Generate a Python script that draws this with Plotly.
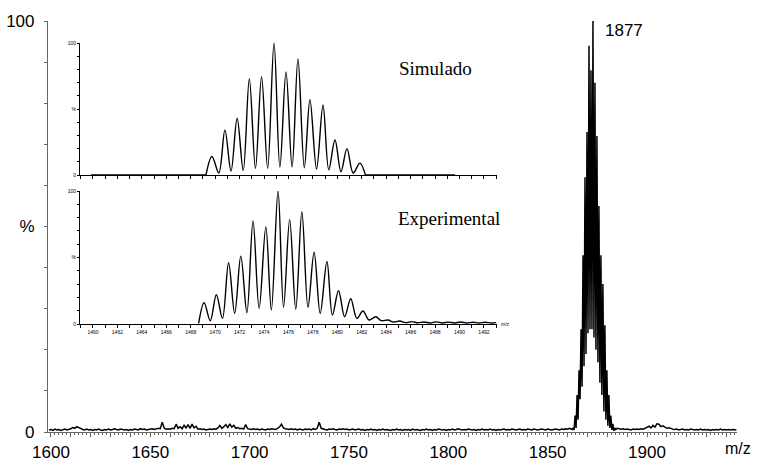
import plotly.graph_objects as go

# ---------------- main spectrum data ----------------
# baseline: one reading per m/z unit, 1599..1861 and 1885..1945
base_mz = list(range(1599, 1862)) + list(range(1885, 1946))
base_int = [
    0.5, 0.6, 0.4, 0.7, 0.5, 0.6, 0.4, 0.6, 0.7, 0.5,
    0.6, 0.8, 1.1, 0.9, 1.3, 1.0, 0.7, 0.6, 0.5, 0.7,
    0.5, 0.6, 0.4, 0.6, 0.5, 0.7, 0.5, 0.4, 0.6, 0.5,
    0.7, 0.5, 0.6, 0.8, 0.6, 0.5, 0.7, 0.6, 0.5, 0.6,
    0.4, 0.6, 0.5, 0.7, 0.6, 0.5, 0.8, 0.6, 0.7, 0.5,
    0.6, 0.7, 0.8, 0.6, 0.7, 0.9, 0.8, 2.4, 0.9, 0.7,
    0.8, 0.7, 0.9, 0.8, 1.9, 0.9, 1.3, 0.8, 1.6, 1.0,
    1.8, 0.9, 1.9, 1.0, 1.4, 0.7, 0.8, 0.6, 0.7, 0.5,
    0.6, 0.7, 0.6, 0.8, 0.7, 1.0, 1.6, 0.9, 1.3, 1.8,
    1.1, 2.0, 1.2, 1.6, 0.9, 1.1, 0.8, 0.9, 0.7, 1.8,
    0.8, 0.7, 0.6, 0.8, 0.6, 0.7, 0.5, 0.7, 0.6, 0.5,
    0.7, 0.6, 0.8, 0.7, 0.6, 0.9, 1.2, 1.9, 1.0, 0.8,
    0.7, 0.6, 0.8, 0.6, 0.7, 0.5, 0.7, 0.6, 0.5, 0.7,
    0.6, 0.7, 0.5, 0.8, 0.6, 0.9, 2.4, 0.9, 0.7, 0.6,
    0.5, 0.7, 0.6, 0.8, 0.6, 0.5, 0.7, 0.6, 0.8, 0.6,
    0.7, 0.5, 0.6, 0.7, 0.5, 0.6, 0.7, 0.5, 0.6, 0.4,
    0.6, 0.5, 0.7, 0.5, 0.6, 0.4, 0.6, 0.5, 0.7, 0.5,
    0.6, 0.5, 0.4, 0.6, 0.5, 0.7, 0.5, 0.6, 0.4, 0.6,
    0.5, 0.6, 0.4, 0.7, 0.5, 0.6, 0.5, 0.4, 0.6, 0.5,
    0.7, 0.5, 0.6, 0.4, 0.6, 0.5, 0.7, 0.6, 0.5, 0.6,
    0.4, 0.6, 0.5, 0.7, 0.5, 0.6, 0.8, 0.6, 0.5, 0.6,
    0.5, 0.7, 0.6, 0.5, 0.6, 0.4, 0.6, 0.5, 0.7, 0.5,
    0.6, 0.5, 0.7, 0.5, 0.6, 0.4, 0.6, 0.5, 0.6, 0.7,
    0.5, 0.6, 0.5, 0.7, 0.6, 0.5, 0.6, 0.7, 0.5, 0.6,
    0.5, 0.7, 0.6, 0.5, 0.7, 0.6, 0.5, 0.6, 0.7, 0.6,
    0.5, 0.7, 0.6, 0.5, 0.6, 0.7, 0.6, 0.5, 0.7, 0.6,
    0.8, 0.7, 0.9,
    0.9, 0.8, 0.7, 0.8, 0.6, 0.7, 0.6, 0.5, 0.7, 0.6,
    0.7, 0.6, 0.8, 0.7, 0.9, 1.1, 1.4, 1.0, 1.6, 1.2,
    2.0, 1.9, 1.3, 1.5, 1.2, 0.9, 1.0, 0.8, 0.7, 0.6,
    0.7, 0.5, 0.6, 0.7, 0.5, 0.6, 0.5, 0.7, 0.6, 0.5,
    0.6, 0.5, 0.7, 0.5, 0.6, 0.5, 0.6, 0.4, 0.6, 0.5,
    0.6, 0.5, 0.7, 0.5, 0.6, 0.5, 0.6, 0.5, 0.6, 0.5, 0.5]

cluster_peak_mz = [1862.8, 1863.8, 1864.8, 1865.8, 1866.8, 1867.8, 1868.8, 1869.8, 1870.8, 1871.8,
                   1872.8, 1873.8, 1874.8, 1875.8, 1876.8, 1877.8, 1878.8, 1879.8, 1880.8, 1881.8,
                   1882.8, 1883.8]
cluster_peak_int = [1, 4, 9, 15, 25, 43, 62, 73, 94, 88, 100, 85, 72, 55, 43, 36, 26, 15, 9, 4, 2, 1]
cluster_valley_mz = [1862.3, 1863.3, 1864.3, 1865.3, 1866.3, 1867.3, 1868.3, 1869.3, 1870.3, 1871.3,
                     1872.3, 1873.3, 1874.3, 1875.3, 1876.3, 1877.3, 1878.3, 1879.3, 1880.3, 1881.3,
                     1882.3, 1883.3, 1884.3]
cluster_valley_int = [0.6, 0.5, 1, 3, 8, 11, 16, 19, 24, 25, 25, 23, 20, 17, 12, 9, 5, 3, 1.5, 1, 0.5,
                      0.3, 0.6]

# ---------------- inset data ----------------
sim_flat_mz = [1459.84, 1469.25]
sim_tail_mz = [1482.3, 1489.63]
sim_mz = [1469.25, 1469.74, 1470.3, 1470.8, 1471.3, 1471.8, 1472.3, 1472.8, 1473.3, 1473.8, 1474.3,
          1474.82, 1475.3, 1475.8, 1476.3, 1476.78, 1477.3, 1477.76, 1478.3, 1478.83, 1479.3, 1479.81,
          1480.3, 1480.79, 1481.3, 1481.85, 1482.3]
sim_int = [0, 14, 1.5, 34, 3, 43, 3.5, 73, 5, 74.5, 5,
           100, 6, 78, 6, 88, 5.5, 57, 4.5, 53, 4, 26.5,
           2.5, 20, 1.5, 9, 0]

exp_mz = [1468.65, 1469.1, 1469.6, 1470.1, 1470.6, 1471.1, 1471.6, 1472.1, 1472.6, 1473.1, 1473.6,
          1474.15, 1474.6, 1475.15, 1475.6, 1476.1, 1476.6, 1477.1, 1477.6, 1478.1, 1478.6, 1479.15,
          1479.6, 1480.1, 1480.6, 1481.1, 1481.6, 1482.1, 1482.6, 1483.15, 1483.6, 1484.15, 1484.6,
          1485.1, 1485.6, 1486.1, 1486.6, 1487.1, 1487.6, 1488.1, 1488.6, 1489.1, 1489.6, 1490.1,
          1490.6, 1491.1, 1491.6, 1492.1, 1492.6, 1493.0]
exp_int = [0.5, 16, 2.5, 22, 4.25, 46, 8, 51, 8.5, 77.5, 11.75,
           73, 10.5, 100, 12.5, 78.5, 11, 84.5, 12.5, 54, 8, 47,
           6.75, 25, 5.5, 19, 4.25, 9.75, 3, 5.5, 2.5, 3, 1.5,
           2.2, 1.0, 1.8, 0.9, 1.5, 0.8, 1.6, 0.8, 1.4, 0.8, 1.5,
           0.8, 1.3, 0.8, 1.3, 0.8, 1.0]

main_x_ticks = list(range(1600, 1941, 10))
main_x_text = [str(v) if v % 50 == 0 else "" for v in main_x_ticks]
pct_ticks = list(range(0, 101, 10))
pct_text = ["0", "", "", "", "", "%", "", "", "", "", "100"]
inset_x_ticks = list(range(1459, 1494))
inset_x_text = [str(v) if v % 2 == 0 else "" for v in inset_x_ticks]

# combine main spectrum (sorted by m/z)
pts = list(zip(base_mz, base_int)) + list(zip(cluster_peak_mz, cluster_peak_int)) + \
      list(zip(cluster_valley_mz, cluster_valley_int))
pts.sort()
main_mz = [p[0] for p in pts]
main_int = [p[1] for p in pts]

fig = go.Figure()
fig.add_trace(go.Scatter(x=main_mz, y=main_int, mode="lines",
                         line=dict(color="black", width=1.5), xaxis="x", yaxis="y"))
# simulated
fig.add_trace(go.Scatter(x=sim_flat_mz, y=[0, 0], mode="lines",
                         line=dict(color="black", width=1.4), xaxis="x2", yaxis="y2"))
fig.add_trace(go.Scatter(x=sim_tail_mz, y=[0, 0], mode="lines",
                         line=dict(color="black", width=1.4), xaxis="x2", yaxis="y2"))
fig.add_trace(go.Scatter(x=sim_mz, y=sim_int, mode="lines",
                         line=dict(color="black", width=1.4, shape="spline", smoothing=1),
                         xaxis="x2", yaxis="y2"))
# experimental
fig.add_trace(go.Scatter(x=exp_mz, y=exp_int, mode="lines",
                         line=dict(color="black", width=1.4, shape="spline", smoothing=1),
                         xaxis="x3", yaxis="y3"))

W, H = 763, 464
main_font = dict(family="Liberation Sans, Arial, sans-serif", size=17, color="black")
tiny_font = dict(family="Liberation Sans, Arial, sans-serif", size=5, color="black")
axis_gray = "#666666"

inset_xdom = [80 / W, 497 / W]

fig.update_layout(
    width=W, height=H, margin=dict(l=0, r=0, t=0, b=0, autoexpand=False),
    paper_bgcolor="white", plot_bgcolor="white", showlegend=False,
    xaxis=dict(domain=[48 / W, 737 / W], range=[1598.5, 1945.3], anchor="y", automargin=False,
               showline=True, linecolor=axis_gray, linewidth=1.2, showgrid=False, zeroline=False,
               tickmode="array", tickvals=main_x_ticks, ticktext=main_x_text,
               ticks="outside", ticklen=4, tickcolor=axis_gray, tickwidth=1,
               minor=dict(dtick=2, tick0=1600, ticks="outside", ticklen=2, tickcolor=axis_gray),
               tickfont=main_font),
    yaxis=dict(domain=[32 / H, 443 / H], range=[0, 100], anchor="x", automargin=False,
               showline=True, linecolor=axis_gray, linewidth=1.2, showgrid=False, zeroline=False,
               tickmode="array", tickvals=pct_ticks, ticktext=pct_text,
               ticks="outside", ticklen=3, tickcolor=axis_gray, tickfont=main_font,
               ticklabelstandoff=6),
    xaxis2=dict(domain=inset_xdom, range=[1458.94, 1493.07], anchor="y2", automargin=False,
                showline=True, linecolor="black", linewidth=1.3, showgrid=False, zeroline=False,
                tickmode="array", tickvals=inset_x_ticks, showticklabels=False,
                ticks="outside", ticklen=2.5, tickcolor="black", tickwidth=0.8),
    yaxis2=dict(domain=[(H - 175) / H, (H - 43) / H], range=[0, 100], anchor="x2", automargin=False,
                showline=True, linecolor="black", linewidth=1, showgrid=False, zeroline=False,
                tickmode="array", tickvals=pct_ticks, ticktext=pct_text,
                ticks="outside", ticklen=2, tickcolor="black", tickwidth=0.7, tickfont=tiny_font),
    xaxis3=dict(domain=inset_xdom, range=[1458.94, 1493.07], anchor="y3", automargin=False,
                showline=True, linecolor="black", linewidth=1.3, showgrid=False, zeroline=False,
                tickmode="array", tickvals=inset_x_ticks, ticktext=inset_x_text,
                ticks="outside", ticklen=2.5, tickcolor="black", tickwidth=0.8, tickfont=tiny_font),
    yaxis3=dict(domain=[(H - 324) / H, (H - 191) / H], range=[0, 100], anchor="x3", automargin=False,
                showline=True, linecolor="black", linewidth=1, showgrid=False, zeroline=False,
                tickmode="array", tickvals=pct_ticks, ticktext=pct_text,
                ticks="outside", ticklen=2, tickcolor="black", tickwidth=0.7, tickfont=tiny_font),
)

serif_font = dict(family="Liberation Serif, Times New Roman, serif", size=19, color="black")
fig.add_annotation(text="1877", xref="paper", yref="paper", x=603 / W, y=(H - 30) / H,
                   xanchor="left", yanchor="middle", showarrow=False, font=main_font)
fig.add_annotation(text="m/z", xref="paper", yref="paper", x=723 / W, y=(H - 448) / H,
                   xanchor="left", yanchor="middle", showarrow=False, font=dict(main_font, size=16))
fig.add_annotation(text="Simulado", xref="paper", yref="paper", x=397 / W, y=(H - 69) / H,
                   xanchor="left", yanchor="middle", showarrow=False, font=serif_font)
fig.add_annotation(text="Experimental", xref="paper", yref="paper", x=396 / W, y=(H - 219) / H,
                   xanchor="left", yanchor="middle", showarrow=False, font=serif_font)
fig.add_annotation(text="m/z", xref="paper", yref="paper", x=499 / W, y=(H - 324) / H,
                   xanchor="left", yanchor="middle", showarrow=False, font=tiny_font)

fig.write_html("out.html")
